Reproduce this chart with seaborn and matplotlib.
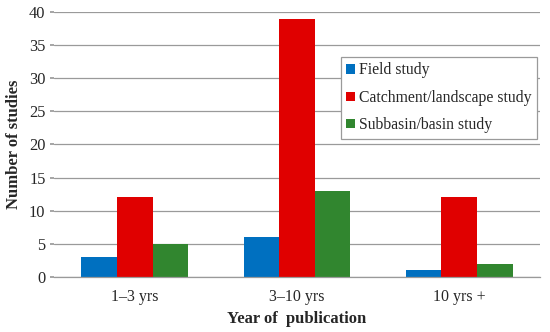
import matplotlib
matplotlib.use("Agg")
import matplotlib.pyplot as plt
import seaborn as sns
import pandas as pd

categories = ["1\u20133 yrs", "3\u201310 yrs", "10 yrs +"]
field = [3, 6, 1]
catchment = [12, 39, 12]
subbasin = [5, 13, 2]
series_names = ["Field study", "Catchment/landscape study", "Subbasin/basin study"]
colors = ["#0070C0", "#E00000", "#31862F"]

rows = []
for name, vals in zip(series_names, [field, catchment, subbasin]):
    for c, v in zip(categories, vals):
        rows.append({"cat": c, "series": name, "value": v})
df = pd.DataFrame(rows)

sns.set_theme(style="white")
plt.rcParams["font.family"] = ["Liberation Serif", "DejaVu Serif"]

fig = plt.figure(figsize=(5.5, 3.32), dpi=100)
ax = fig.add_axes([0.098, 0.166, 0.884, 0.798])
sns.barplot(data=df, x="cat", y="value", hue="series", palette=colors,
            order=categories, hue_order=series_names, width=0.66,
            saturation=1, ax=ax, edgecolor="none", linewidth=0)

ax.set_ylim(0, 40)
ax.set_yticks(range(0, 41, 5))
ax.yaxis.grid(True, color="#9A9A9A", linewidth=0.9)
ax.set_axisbelow(True)
for s in ["top", "right", "left"]:
    ax.spines[s].set_visible(False)
ax.spines["bottom"].set_color("#9A9A9A")
ax.spines["bottom"].set_linewidth(0.9)
ax.tick_params(axis="y", length=3, color="#9A9A9A", labelsize=11.8, pad=3, left=True)
ax.tick_params(axis="x", length=0, labelsize=11.5, pad=9)
ax.set_xlabel("Year of  publication", fontsize=12, fontweight="bold", labelpad=4)
ax.set_ylabel("Number of studies", fontsize=12, fontweight="bold", labelpad=5)

leg = ax.legend(loc="upper left", bbox_to_anchor=(0.59, 0.83), fontsize=11.3,
                frameon=True, fancybox=False, edgecolor="#9A9A9A", framealpha=1,
                handlelength=0.55, handleheight=0.55, handletextpad=0.25,
                labelspacing=0.72, borderpad=0.35, borderaxespad=0)
leg.get_frame().set_linewidth(0.9)

fig.savefig("out.png", dpi=100)
